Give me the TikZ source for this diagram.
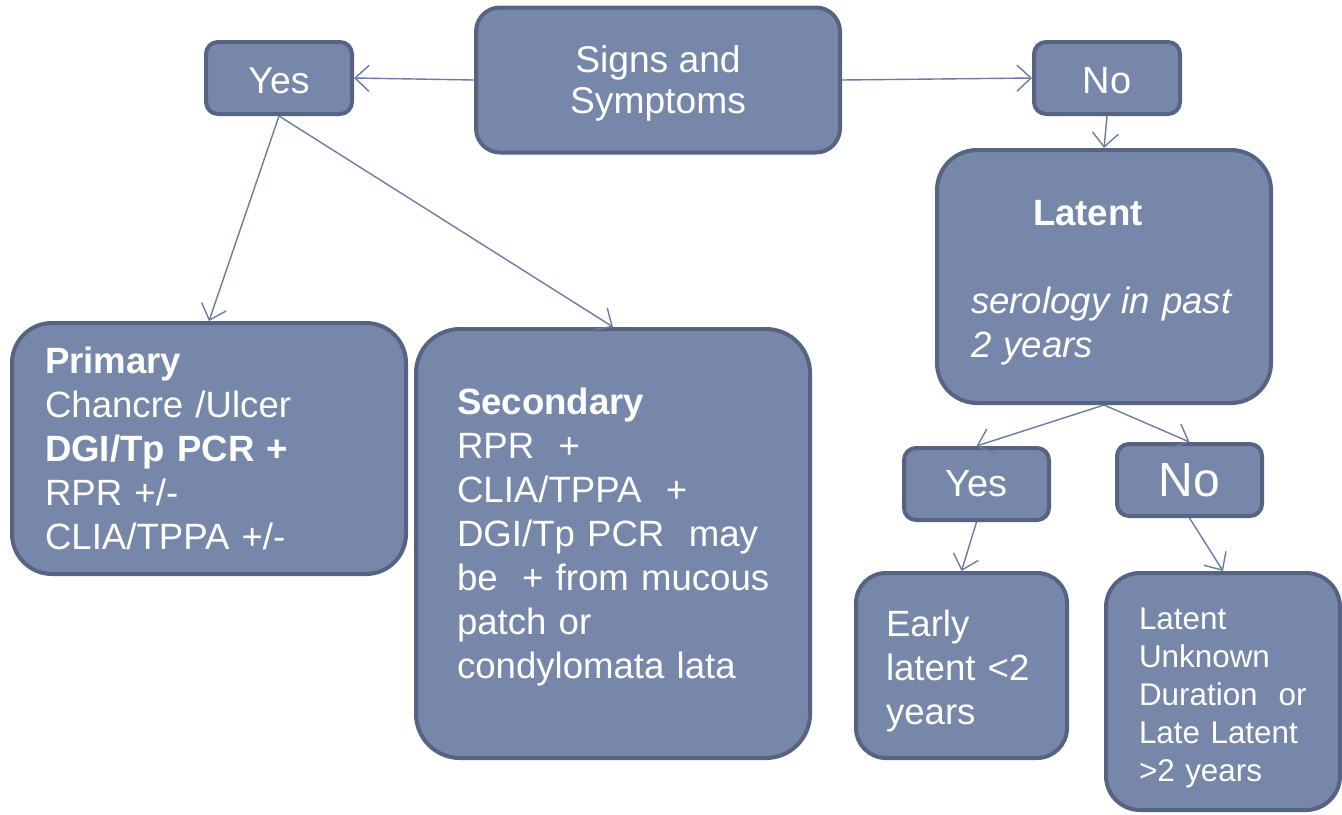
\documentclass[tikz,border=0pt]{standalone}
\usepackage{fontspec}
\setmainfont{Liberation Sans}
\usetikzlibrary{arrows.meta}

\definecolor{boxfill}{RGB}{119,135,170}
\definecolor{boxline}{RGB}{86,99,130}
\definecolor{arrline}{RGB}{106,123,166}

\begin{document}
\begin{tikzpicture}[x=0.5pt, y=-0.5pt,
    box/.style={draw=boxline, line width=2pt, fill=boxfill, text=white,
        inner sep=0pt, rounded corners=#1},
    box/.default=6pt,
    body/.style={font=\fontsize{18.3}{22}\selectfont, align=left},
    link/.style={draw=arrline, line width=0.7pt,
        -{Straight Barb[length=7pt,width=13pt,line width=0.7pt]}}]
    \useasboundingbox (0, 0) rectangle (1342, 814);

    % top row
    \node[box=12pt, minimum width=182pt, minimum height=72.5pt, align=center,
        font=\fontsize{18.6}{20.5}\selectfont] (signs) at (658, 80)
        {\rule{0pt}{17pt}Signs and\\Symptoms};
    \node[box, minimum width=73pt, minimum height=36pt,
        font=\fontsize{18.7}{20.5}\selectfont] (yes1) at (279, 78) {\rule{0pt}{16pt}Yes};
    \node[box, minimum width=73pt, minimum height=36pt,
        font=\fontsize{19}{20.5}\selectfont] (no1) at (1107, 78) {\rule{0pt}{16pt}No};

    % symptomatic
    \node[box=20pt, body, minimum width=197pt, minimum height=125.5pt, text width=164pt]
        (primary) at (209, 448.5)
        {\textbf{Primary}\\Chancre~/Ulcer\\\textbf{DGI/Tp~PCR~+}\\RPR~+/-\\CLIA/TPPA~+/-};
    \node[box=22pt, body, minimum width=197pt, minimum height=214.5pt, text width=156pt]
        (secondary) at (613, 543.5)
        {\textbf{Secondary}\\RPR~~+\\CLIA/TPPA~~+\\\mbox{DGI/Tp~PCR~~may}\\\mbox{be~~+~from~mucous}\\patch~or\\\mbox{condylomata~lata}\rule[-10pt]{0pt}{1pt}};

    % latent
    \node[box=20pt, body, minimum width=167pt, minimum height=126.5pt, text width=133pt]
        (latent) at (1104, 276.5)
        {\hspace*{31pt}\rule{0pt}{19pt}\textbf{Latent}\\[22pt]\textit{serology~in~past}\\\textit{2~years}};
    \node[box, minimum width=72.5pt, minimum height=36pt,
        font=\fontsize{18.9}{22}\selectfont] (yes2) at (976.5, 484) {Yes};
    \node[box, minimum width=72.5pt, minimum height=36pt,
        font=\fontsize{24}{26}\selectfont] (no2) at (1189.5, 480) {No};
    \node[box=15pt, body, minimum width=105.5pt, minimum height=92.5pt, text width=75.5pt]
        (early) at (961.5, 665.5) {\rule{0pt}{19pt}Early\\latent~<2\\years};
    \node[box=17pt, align=left, font=\fontsize{15.7}{19}\selectfont,
        minimum width=117pt, minimum height=118.5pt, text width=84pt]
        (unknown) at (1223, 691.5)
        {\rule{0pt}{17pt}Latent\\Unknown\\\mbox{Duration~~or}\\Late~Latent\\>2~years};

    % connectors
    \draw[link] (signs.west) -- (yes1.east);
    \draw[link] (signs.east) -- (no1.west);
    \draw[link] (no1.south) -- (latent.north);
    \draw[link] (yes1.south) -- (primary.north);
    \draw[link] (yes1.south) -- (secondary.north);
    \draw[link] (latent.south) -- (yes2.north);
    \draw[link] (latent.south) -- (no2.north);
    \draw[link] (yes2.south) -- (early.north);
    \draw[link] (no2.south) -- (unknown.north);
\end{tikzpicture}
\end{document}
